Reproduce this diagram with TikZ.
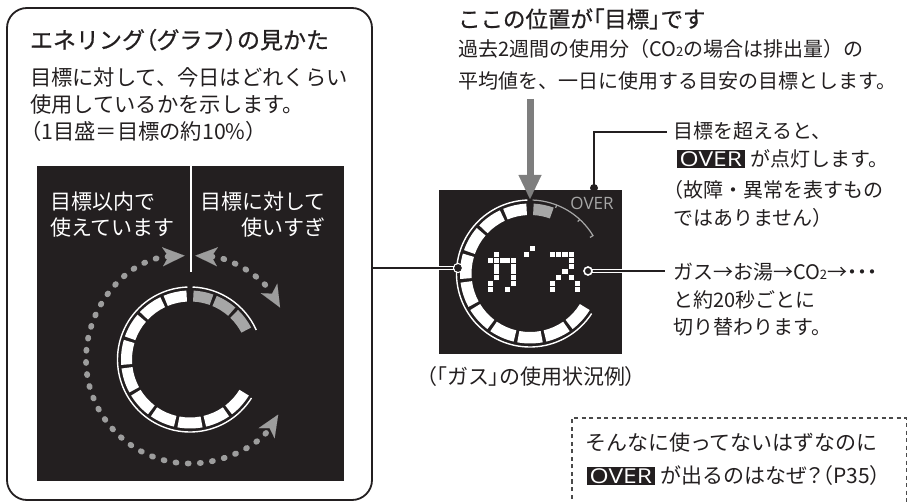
\documentclass[tikz,border=0pt]{standalone}
\usepackage{fontspec}
\setmainfont{Noto Sans CJK JP}
\newfontfamily\jpmed{Noto Sans CJK JP}[FakeBold=0.7]
\newfontfamily\latf{Open Sans}
\usetikzlibrary{arrows.meta}
\definecolor{ink}{HTML}{231F20}
\definecolor{panel}{HTML}{231F20}
\definecolor{seggray}{HTML}{A6A6A6}
\definecolor{dotgray}{HTML}{9D9D9D}
\definecolor{arrgray}{HTML}{7E7E7E}
\definecolor{dashgray}{HTML}{4A4A4A}
\newcommand{\fsz}[1]{\fontsize{#1}{#1}\selectfont}
\newcommand{\pal}[1]{{\addfontfeature{RawFeature=+palt}#1}}
\newcommand{\ovr}{{\setlength{\fboxsep}{1.6pt}\colorbox{ink}{\hspace{1pt}\textcolor{white}{\scalebox{1.2}[1]{\latf\fsz{20.5}OVER}}\hspace{1pt}}}}
\begin{document}
\begin{tikzpicture}[x=1pt,y=-1pt,
  txt/.style={anchor=base west, inner sep=0pt, outer sep=0pt, text=ink, font=\fsz{20}},
  wtxt/.style={txt, text=white, font=\fsz{21}},
  conn/.style={ink, line width=2pt},
  casing/.style={white, line width=4.5pt},
  dotarc/.style={dotgray, line width=5.8pt, line cap=round, dash pattern=on 1pt off 11.2pt},
  dhead/.tip={Stealth[length=22pt, width=19pt, inset=6pt, line width=0.01pt]},
  thinring/.style={white, line width=1.4pt}]
\useasboundingbox (0,0) rectangle (908,502);

% left explanation box
\node[draw=ink, line width=1.8pt, rounded corners=20pt, minimum width=365pt, minimum height=492pt, inner sep=0pt] (lbox) at (189.5,254) {};
\node[txt, font=\fsz{23}\jpmed] (ttl) at (30,48.6) {エネリング\pal{（}グラフ\pal{）}の見かた};
\node[txt, font=\fsz{21.3}] (l1) at (30,85.1) {目標に対して、今日はどれくらい};
\node[txt, font=\fsz{21.3}] (l2) at (30,112.1) {使用しているかを示します。};
\node[txt, font=\fsz{21.3}] (l3) at (20,139.1) {（1目盛＝目標の約10\%）};

% black panel
\node[fill=panel, minimum width=307pt, minimum height=315pt, inner sep=0pt, anchor=north west] (lpanel) at (37,166) {};
\draw[white, line width=1.4pt] (191,166) -- (191,272);
\node[wtxt] (p1) at (50,210) {目標以内で};
\node[wtxt] (p2) at (50,236) {使えています};
\node[wtxt] (p3) at (200,210) {目標に対して};
\node[wtxt, anchor=base east] (p4) at (325,236) {使いすぎ};

\begin{scope}[shift={(190,359.5)}, yscale=-1]
  \foreach \k in {0,...,9} {
    \pgfmathsetmacro\a{91.5+24*\k+1.5*(\k==0)}
    \pgfmathsetmacro\b{90+24*(\k+1)-1.5}
    \fill[white] (\a:69) arc[start angle=\a, end angle=\b, radius=69] -- (\b:58) arc[start angle=\b, end angle=\a, radius=58] -- cycle;
  }
  \foreach \k in {0,1,2} {
    \pgfmathsetmacro\a{88.5-21.3*\k-1.5*(\k==0)}
    \pgfmathsetmacro\b{90-21.3*(\k+1)+1.5}
    \fill[seggray] (\a:69) arc[start angle=\a, end angle=\b, radius=69] -- (\b:58) arc[start angle=\b, end angle=\a, radius=58] -- cycle;
  }
  \draw[thinring] (92:72.5) arc[start angle=92, end angle=328, radius=72.5];
  \draw[thinring] (88:72.5) arc[start angle=88, end angle=24, radius=72.5];
  \draw[dotarc, dhead-dhead] (93:104) arc[start angle=93, end angle=328, radius=104];
  \draw[dotarc, dhead-dhead] (87:104) arc[start angle=87, end angle=30, radius=104];
\end{scope}

% right top texts
\node[txt, font=\fsz{22.5}\jpmed] (r1) at (458,27.5) {ここの位置が\pal{「}目標\pal{」}です};
\node[txt] (r2) at (458,56.6) {過去2週間の使用分（CO{\fsz{13}2}の場合は排出量）の};
\node[txt] (r3) at (458,88.6) {平均値を、一日に使用する目安の目標とします。};

% display
\node[fill=panel, minimum width=183pt, minimum height=164pt, inner sep=0pt, anchor=north west] (disp) at (439,190) {};
\begin{scope}[shift={(530,273.5)}, yscale=-1]
  \foreach \k in {0,...,9} {
    \pgfmathsetmacro\a{91.5+24*\k+1.5*(\k==0)}
    \pgfmathsetmacro\b{90+24*(\k+1)-1.5}
    \fill[white] (\a:70) arc[start angle=\a, end angle=\b, radius=70] -- (\b:58.5) arc[start angle=\b, end angle=\a, radius=58.5] -- cycle;
  }
  \fill[seggray] (87:70) arc[start angle=87, end angle=70.2, radius=70] -- (70.2:58.5) arc[start angle=70.2, end angle=87, radius=58.5] -- cycle;
  \draw[thinring] (92:73.5) arc[start angle=92, end angle=327, radius=73.5];
  \draw[seggray, line width=1.2pt] (88:73.5) arc[start angle=88, end angle=31, radius=73.5] -- (31:70);
  \foreach \t in {68.7,47.4} \draw[seggray, line width=1.2pt] (\t:73.5) -- (\t:70.5);
\end{scope}
\node[inner sep=0pt, text=seggray, font=\latf\fsz{17}] (ovl) at (592,203) {OVER};

% dot-matrix ガス
\foreach \cc/\rr in {1/0, 0/1,1/1,2/1,3/1,4/1, 1/2,4/2, 1/3,4/3, 1/4,4/4, 0/5,4/5, 0/6,3/6}
  \fill[white] (488+5.8*\cc, 252+5.8*\rr) rectangle ++(5,5);
\fill[white] (529.5,246.5) rectangle ++(5,5);
\fill[white] (523.5,252) rectangle ++(5,5);
\foreach \cc/\rr in {0/0,1/0,2/0,3/0, 3/1, 3/2, 2/3, 1/4,3/4, 0/5,4/5, 0/6,4/6}
  \fill[white] (550+6.2*\cc, 252+5.8*\rr) rectangle ++(5.2,5);

% down arrow
\coordinate (arrtop) at (530,99);
\coordinate (arrtip) at (530,199);
\draw[arrgray, line width=7pt, -{Triangle[length=24pt, width=23pt, line width=0.01pt]}] (arrtop) -- (arrtip);

% right block 1
\node[txt] (o1) at (673,138.6) {目標を超えると、};
\node[txt] (o2) at (677,166.6) {\ovr\hspace{6pt}が点灯します。};
\node[txt] (o3) at (663,197.6) {（故障・異常を表すもの};
\node[txt] (o4) at (673,225.6) {ではありません）};
% right block 2
\node[txt] (g1) at (673,279.6) {ガス\pal{→}お湯\pal{→}CO{\fsz{13}2}\pal{→・・・}};
\node[txt] (g2) at (673,307.6) {と約20秒ごとに};
\node[txt] (g3) at (673,334.6) {切り替わります。};

\node[txt, anchor=base, font=\fsz{21}] (cap) at (531,385) {\pal{（「}ガス\pal{」}の使用状況例\pal{）}};

% connectors
\coordinate (ldot) at (458,268);
\draw[casing] (disp.west |- ldot) -- (ldot);
\draw[conn] (lbox.east |- ldot) -- (ldot);
\fill[ink] (ldot) circle (4pt);
\draw[white, line width=1pt] (ldot) circle (4.6pt);

\coordinate (odot) at (594,188);
\coordinate (obend) at (594,132);
\draw[conn, shorten >=6pt] (odot) -- (obend) -- (obend -| o1.west);
\fill[ink] (odot) circle (4pt);

\coordinate (gdot) at (588,271);
\draw[casing] (gdot) -- (gdot -| disp.east);
\draw[conn, shorten >=8pt] (gdot) -- (gdot -| g1.west);
\draw[white, line width=1.6pt, fill=ink] (gdot) circle (4pt);

% dashed box
\draw[dashgray, line width=1.2pt, dash pattern=on 4pt off 3.5pt] (572,506) -- (572,418) -- (906.3,418) -- (906.3,506);
\node[txt, font=\fsz{21}] (q1) at (585,451) {そんなに使ってないはずなのに};
\node[txt, font=\fsz{21}] (q2) at (587,483) {\ovr\hspace{6pt}が出るのはなぜ\pal{？（}P35\pal{）}};
\end{tikzpicture}
\end{document}
